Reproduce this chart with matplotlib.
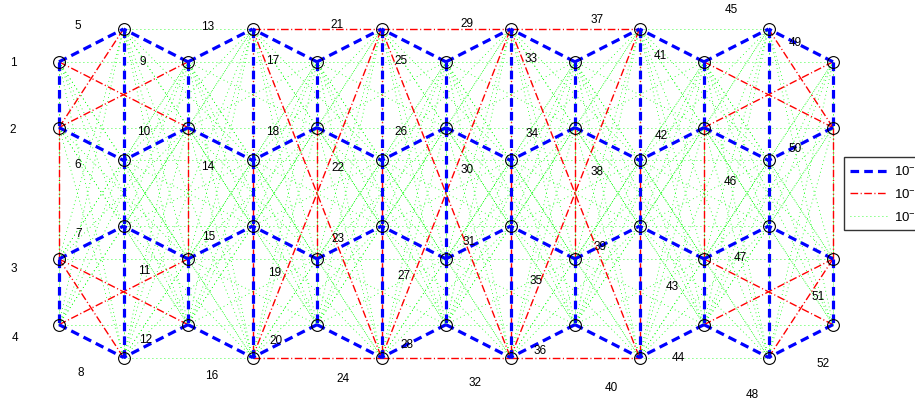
import matplotlib.pyplot as plt
from matplotlib.lines import Line2D

plt.rcParams['font.family'] = ['Liberation Sans', 'DejaVu Sans']
plt.rcParams['mathtext.fontset'] = 'custom'
plt.rcParams['mathtext.rm'] = 'Liberation Sans'

# node positions (column, level from the top), nodes 1..52
node_x = [0, 0, 0, 0, 1, 1, 1, 1, 2, 2, 2, 2, 3, 3, 3, 3,
          4, 4, 4, 4, 5, 5, 5, 5, 6, 6, 6, 6, 7, 7, 7, 7,
          8, 8, 8, 8, 9, 9, 9, 9, 10, 10, 10, 10, 11, 11, 11, 11,
          12, 12, 12, 12]
node_y = [0.5, 1.5, 3.5, 4.5, 0, 2, 3, 5] * 6 + [0.5, 1.5, 3.5, 4.5]

# where each node number is written
label_x = [-0.713, -0.713, -0.698, -0.682, 0.295, 0.295, 0.31, 0.341,
           1.295, 1.31, 1.318, 1.349, 2.31, 2.31, 2.326, 2.372,
           3.31, 3.31, 3.349, 3.364, 4.31, 4.318, 4.326, 4.403,
           5.31, 5.31, 5.349, 5.395, 6.326, 6.326, 6.357, 6.45,
           7.318, 7.333, 7.395, 7.457, 8.341, 8.341, 8.388, 8.558,
           9.326, 9.333, 9.512, 9.597, 10.419, 10.411, 10.566, 10.744,
           11.419, 11.419, 11.775, 11.845]
label_y = [0.502, 1.522, 3.638, 4.688, -0.061, 2.062, 3.105, 5.221,
           0.487, 1.545, 3.668, 4.718, -0.046, 2.085, 3.151, 5.266,
           0.472, 1.553, 3.699, 4.734, -0.076, 2.1, 3.181, 5.312,
           0.472, 1.56, 3.744, 4.795, -0.091, 2.131, 3.227, 5.373,
           0.441, 1.583, 3.82, 4.886, -0.152, 2.161, 3.303, 5.449,
           0.396, 1.621, 3.919, 4.985, -0.304, 2.306, 3.463, 5.556,
           0.205, 1.811, 4.064, 5.084]

# strongest links
blue_edges = [(1, 2), (3, 4), (5, 6), (6, 7), (7, 8), (9, 10), (11, 12),
              (13, 14), (14, 15), (15, 16), (17, 18), (19, 20),
              (21, 22), (22, 23), (23, 24), (25, 26), (26, 27), (27, 28),
              (29, 30), (30, 31), (31, 32), (33, 34), (35, 36),
              (37, 38), (38, 39), (39, 40), (41, 42), (43, 44),
              (45, 46), (46, 47), (47, 48), (49, 50), (51, 52),
              (1, 5), (2, 6), (3, 7), (4, 8), (9, 5), (10, 6), (11, 7), (12, 8),
              (9, 13), (10, 14), (11, 15), (12, 16), (17, 13), (18, 14), (19, 15), (20, 16),
              (17, 21), (18, 22), (19, 23), (20, 24), (25, 21), (26, 22), (27, 23), (28, 24),
              (25, 29), (26, 30), (27, 31), (28, 32), (33, 29), (34, 30), (35, 31), (36, 32),
              (33, 37), (34, 38), (35, 39), (36, 40), (41, 37), (42, 38), (43, 39), (44, 40),
              (41, 45), (42, 46), (43, 47), (44, 48), (49, 45), (50, 46), (51, 47), (52, 48)]

# middle links
red_edges = [(2, 3), (10, 11), (18, 19), (34, 35), (42, 43), (50, 51),
             (13, 16), (21, 24), (29, 32), (37, 40),
             (13, 21), (21, 29), (29, 37), (16, 24), (24, 32), (32, 40),
             (1, 10), (2, 9), (3, 12), (4, 11), (2, 5), (3, 8),
             (41, 50), (42, 49), (43, 52), (44, 51), (45, 50), (48, 51),
             (13, 24), (16, 21), (21, 32), (24, 29), (29, 40), (32, 37)]

# weak links: every other pair of nodes at most two columns apart
green_gap = 2
strong = set(tuple(sorted(e)) for e in blue_edges + red_edges)
green_edges = [(i, j) for i in range(1, 53) for j in range(i + 1, 53)
               if abs(node_x[i - 1] - node_x[j - 1]) <= green_gap and (i, j) not in strong]

legend_labels = [r'10$^{-1}$', r'10$^{-2}$', r'10$^{-3}$']

fig = plt.figure(figsize=(9.15, 4.02), dpi=100)
ax = fig.add_axes([0, 0, 1, 1])

blue_style = dict(color='#0000ff', lw=2.3, linestyle=(0, (2.7, 1.6)), zorder=3)
red_style = dict(color='#ff0000', lw=1.0, linestyle=(0, (5.5, 1.8, 0.8, 1.8)), zorder=2)
green_style = dict(color='#00ff00', lw=0.6, linestyle=(0, (1, 3.8)), zorder=1)

for edges, style in [(green_edges, green_style), (red_edges, red_style), (blue_edges, blue_style)]:
    for a, b in edges:
        ax.plot([node_x[a - 1], node_x[b - 1]], [node_y[a - 1], node_y[b - 1]], **style)

ax.plot(node_x, node_y, 'o', ms=8.5, mfc='none', mec='black', mew=0.8, zorder=4)

for k in range(52):
    ax.text(label_x[k], label_y[k], str(k + 1), fontsize=8.5, ha='center', va='center', zorder=5)

ax.set_xlim(-59 / 64.5, 856 / 64.5)
ax.set_ylim(372 / 65.7, -30 / 65.7)
ax.axis('off')

handles = [Line2D([], [], **blue_style), Line2D([], [], **red_style), Line2D([], [], **green_style)]
leg = fig.legend(handles, legend_labels, loc='upper left', bbox_to_anchor=(844 / 915, 1 - 158 / 402),
                 fontsize=9.5, frameon=True, fancybox=False, borderaxespad=0, borderpad=0.45,
                 handlelength=2.8, handletextpad=0.55, labelspacing=0.58)
leg.get_frame().set_edgecolor('black')
leg.get_frame().set_linewidth(1.0)

fig.savefig('out.png', dpi=100)
